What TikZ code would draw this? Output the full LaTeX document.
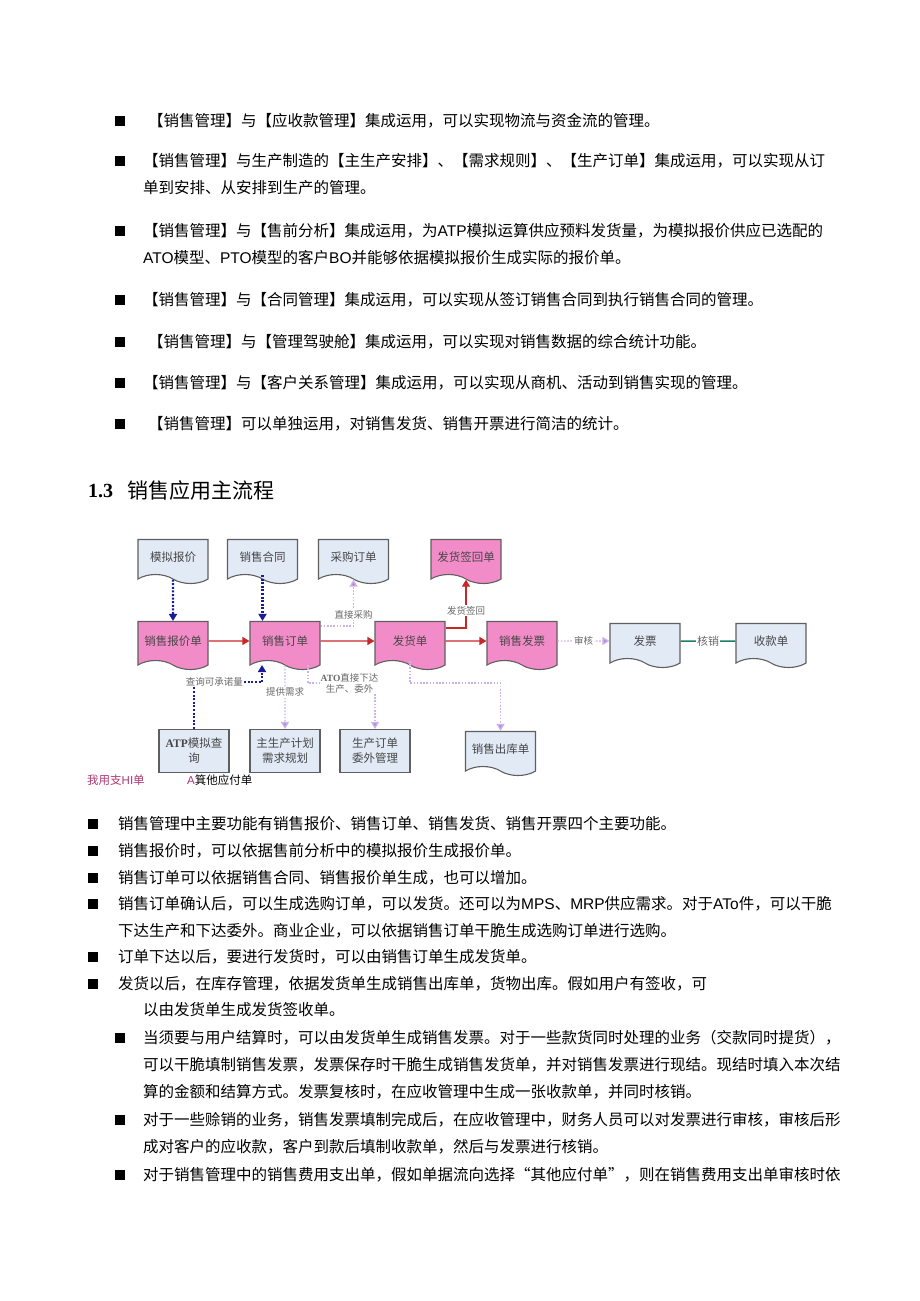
\documentclass[tikz,border=0pt]{standalone}
\usepackage{fontspec}
\setmainfont{Noto Sans CJK SC}
\newfontfamily\latinsans{Liberation Sans}
\newfontfamily\latinserif{Liberation Serif}
\usetikzlibrary{positioning,arrows.meta,shapes.symbols}
\definecolor{docpink}{RGB}{242,140,200}
\definecolor{docblue}{RGB}{226,234,246}
\definecolor{docline}{RGB}{95,95,95}
\definecolor{boxtext}{RGB}{70,70,70}
\definecolor{lbltext}{RGB}{105,105,105}
\definecolor{linkblue}{RGB}{25,30,150}
\definecolor{linkviolet}{RGB}{205,178,232}
\definecolor{tipviolet}{RGB}{182,132,230}
\definecolor{linkred}{RGB}{200,40,40}
\definecolor{linkgreen}{RGB}{30,125,100}
\definecolor{notepink}{RGB}{175,55,115}
\newcommand{\en}[1]{{\latinsans #1}}
\newcommand{\enb}[1]{{\latinserif\bfseries #1}}

\begin{document}
\begin{tikzpicture}[x=1pt,y=-1pt,on grid,>={Triangle[length=7pt,width=8pt]},
		doc/.style={shape=tape,tape bend top=none,tape bend bottom=out and in,tape bend height=9pt,
			draw=docline,line width=1.1pt,minimum width=70pt,minimum height=44pt,inner sep=0pt,
			text=boxtext,font=\fontsize{11.5}{13}\selectfont},
		pinkdoc/.style={doc,fill=docpink,minimum height=48pt},
		bluedoc/.style={doc,fill=docblue},
		plainbox/.style={rectangle,draw=docline,line width=1.1pt,fill=docblue,minimum width=70pt,
			minimum height=43pt,inner sep=1pt,align=center,text=boxtext,font=\fontsize{11.5}{15}\selectfont},
		lbl/.style={fill=white,inner sep=1pt,text=lbltext,font=\fontsize{9.5}{11}\selectfont},
		bluelink/.style={->,draw=linkblue,line width=2.2pt,dash pattern=on 2pt off 1.6pt},
		violetlink/.style={-{Triangle[length=7pt,width=8pt,fill=tipviolet]},draw=linkviolet,line width=1.3pt,dash pattern=on 1.6pt off 1.6pt},
		redlink/.style={->,draw=linkred,line width=1.2pt},
		greenlink/.style={draw=linkgreen,line width=1.5pt},
		sq/.style={fill=black,minimum size=9.5pt,inner sep=0pt},
		para/.style={anchor=west,inner sep=0pt,font=\fontsize{15.5}{18}\selectfont}]
		\fill[white] (0,0) rectangle (920,1301);
		\useasboundingbox (0,0) rectangle (920,1301);

		% integration list
		\node[sq] (s1) at (120,121) {};
		\node[para] (t1) at (148,121) {【销售管理】与【应收款管理】集成运用，可以实现物流与资金流的管理。};
		\node[sq] (s2) at (120,161) {};
		\node[para] (t2) at (143,161) {【销售管理】与生产制造的【主生产安排】、【需求规则】、【生产订单】集成运用，可以实现从订};
		\node[para] (t2b) at (143,188) {单到安排、从安排到生产的管理。};
		\node[sq] (s3) at (120,231) {};
		\node[para] (t3) at (143,231) {【销售管理】与【售前分析】集成运用，为\en{ATP}模拟运算供应预料发货量，为模拟报价供应已选配的};
		\node[para] (t3b) at (143,258) {\en{ATO}模型、\en{PTO}模型的客户\en{BO}并能够依据模拟报价生成实际的报价单。};
		\node[sq] (s4) at (120,300) {};
		\node[para] (t4) at (143,300) {【销售管理】与【合同管理】集成运用，可以实现从签订销售合同到执行销售合同的管理。};
		\node[sq] (s5) at (120,342) {};
		\node[para] (t5) at (148,342) {【销售管理】与【管理驾驶舱】集成运用，可以实现对销售数据的综合统计功能。};
		\node[sq] (s6) at (120,383) {};
		\node[para] (t6) at (143,383) {【销售管理】与【客户关系管理】集成运用，可以实现从商机、活动到销售实现的管理。};
		\node[sq] (s7) at (120,424) {};
		\node[para] (t7) at (148,424) {【销售管理】可以单独运用，对销售发货、销售开票进行简洁的统计。};

		% heading
		\node[anchor=west,inner sep=0pt,font=\latinserif\bfseries\fontsize{20}{22}\selectfont] (secno) at (88,491) {1.3};
		\node[anchor=west,inner sep=0pt,font=\fontsize{21}{24}\selectfont] (sectitle) at (127,491) {销售应用主流程};

		% flow chart
		\node[pinkdoc] (quote) at (173,641) {销售报价单};
		\node[pinkdoc] (order) [right=112pt of quote] {销售订单};
		\node[pinkdoc] (ship) [right=125pt of order] {发货单};
		\node[pinkdoc] (sinv) [right=112pt of ship] {销售发票};
		\node[bluedoc] (inv) [right=123pt of sinv] {发票};
		\node[bluedoc] (recv) [right=126pt of inv] {收款单};
		\node[bluedoc] (sim) at (173,557) {模拟报价};
		\node[bluedoc] (contr) at (262.5,557) {销售合同};
		\node[bluedoc] (purch) at (353.5,557) {采购订单};
		\node[pinkdoc,minimum height=44pt] (signed) at (466,557) {发货签回单};
		\node[plainbox] (mps) [below=110pt of order] {主生产计划\\需求规划};
		\node[plainbox] (atp) [left=91pt of mps] {\enb{ATP}模拟查\\询};
		\node[plainbox] (prod) [right=90pt of mps] {生产订单\\委外管理};
		\node[bluedoc] (out) at (500.5,749) {销售出库单};

		\draw[bluelink] (sim) -- (quote);
		\draw[bluelink] (contr.south) -- (contr.south |- order.north);
		\draw[redlink] (quote) -- (order);
		\draw[redlink] (order) -- (ship);
		\draw[redlink] (ship) -- (sinv);
		\draw[redlink] ([yshift=13pt]ship.east) -| node[lbl,pos=0.68] {发货签回} (signed);
		\draw[violetlink] ([yshift=15pt]order.east) -| node[lbl,pos=0.62] {直接采购} (purch);
		\draw[violetlink] (sinv) -- node[lbl] {审核} (inv);
		\draw[greenlink] (inv) -- node[lbl,font=\fontsize{11}{12}\selectfont] {核销} (recv);
		\draw[bluelink] (atp.north) -- ++(0,-47) -| node[lbl,pos=0.15] {查询可承诺量} ([xshift=-23pt,yshift=-4pt]order.south);
		\draw[violetlink] (order) -- node[lbl,pos=0.42] {提供需求} (mps);
		\draw[violetlink] ([xshift=23pt,yshift=-4pt]order.south) -- ++(0,18) -| node[lbl,pos=0.31,align=center] {\enb{ATO}直接下达\\生产、委外} (prod.north);
		\draw[violetlink] (ship.south) -- ++(0,22) -| (out.north);

		% stray captions under the chart
		\node[anchor=west,inner sep=0pt,text=notepink,font=\fontsize{11.5}{13}\selectfont] (note1) at (87,780) {我用支\en{HI}单};
		\node[anchor=west,inner sep=0pt,font=\fontsize{11.5}{13}\selectfont] (note2) at (187,780) {\textcolor{notepink}{\en{A}}箕他应付单};

		% description list
		\node[sq] (u1) at (93,824) {};
		\node[para] (d1) at (118,824) {销售管理中主要功能有销售报价、销售订单、销售发货、销售开票四个主要功能。};
		\node[sq] (u2) at (93,851) {};
		\node[para] (d2) at (118,851) {销售报价时，可以依据售前分析中的模拟报价生成报价单。};
		\node[sq] (u3) at (93,878) {};
		\node[para] (d3) at (118,878) {销售订单可以依据销售合同、销售报价单生成，也可以增加。};
		\node[sq] (u4) at (93,904) {};
		\node[para] (d4) at (118,904) {销售订单确认后，可以生成选购订单，可以发货。还可以为\en{MPS}、\en{MRP}供应需求。对于\en{ATo}件，可以干脆};
		\node[para] (d4b) at (118,931) {下达生产和下达委外。商业企业，可以依据销售订单干脆生成选购订单进行选购。};
		\node[sq] (u5) at (93,957) {};
		\node[para] (d5) at (118,957) {订单下达以后，要进行发货时，可以由销售订单生成发货单。};
		\node[sq] (u6) at (93,984) {};
		\node[para] (d6) at (118,984) {发货以后，在库存管理，依据发货单生成销售出库单，货物出库。假如用户有签收，可};
		\node[para] (d6b) at (143,1010) {以由发货单生成发货签收单。};
		\node[sq] (v1) at (120,1038) {};
		\node[para] (e1) at (143,1038) {当须要与用户结算时，可以由发货单生成销售发票。对于一些款货同时处理的业务（交款同时提货），};
		\node[para] (e1b) at (143,1065) {可以干脆填制销售发票，发票保存时干脆生成销售发货单，并对销售发票进行现结。现结时填入本次结};
		\node[para] (e1c) at (143,1092) {算的金额和结算方式。发票复核时，在应收管理中生成一张收款单，并同时核销。};
		\node[sq] (v2) at (120,1120) {};
		\node[para] (e2) at (143,1120) {对于一些赊销的业务，销售发票填制完成后，在应收管理中，财务人员可以对发票进行审核，审核后形};
		\node[para] (e2b) at (143,1147) {成对客户的应收款，客户到款后填制收款单，然后与发票进行核销。};
		\node[sq] (v3) at (120,1175) {};
		\node[para] (e3) at (143,1175) {对于销售管理中的销售费用支出单，假如单据流向选择“其他应付单”，则在销售费用支出单审核时依};
\end{tikzpicture}
\end{document}
